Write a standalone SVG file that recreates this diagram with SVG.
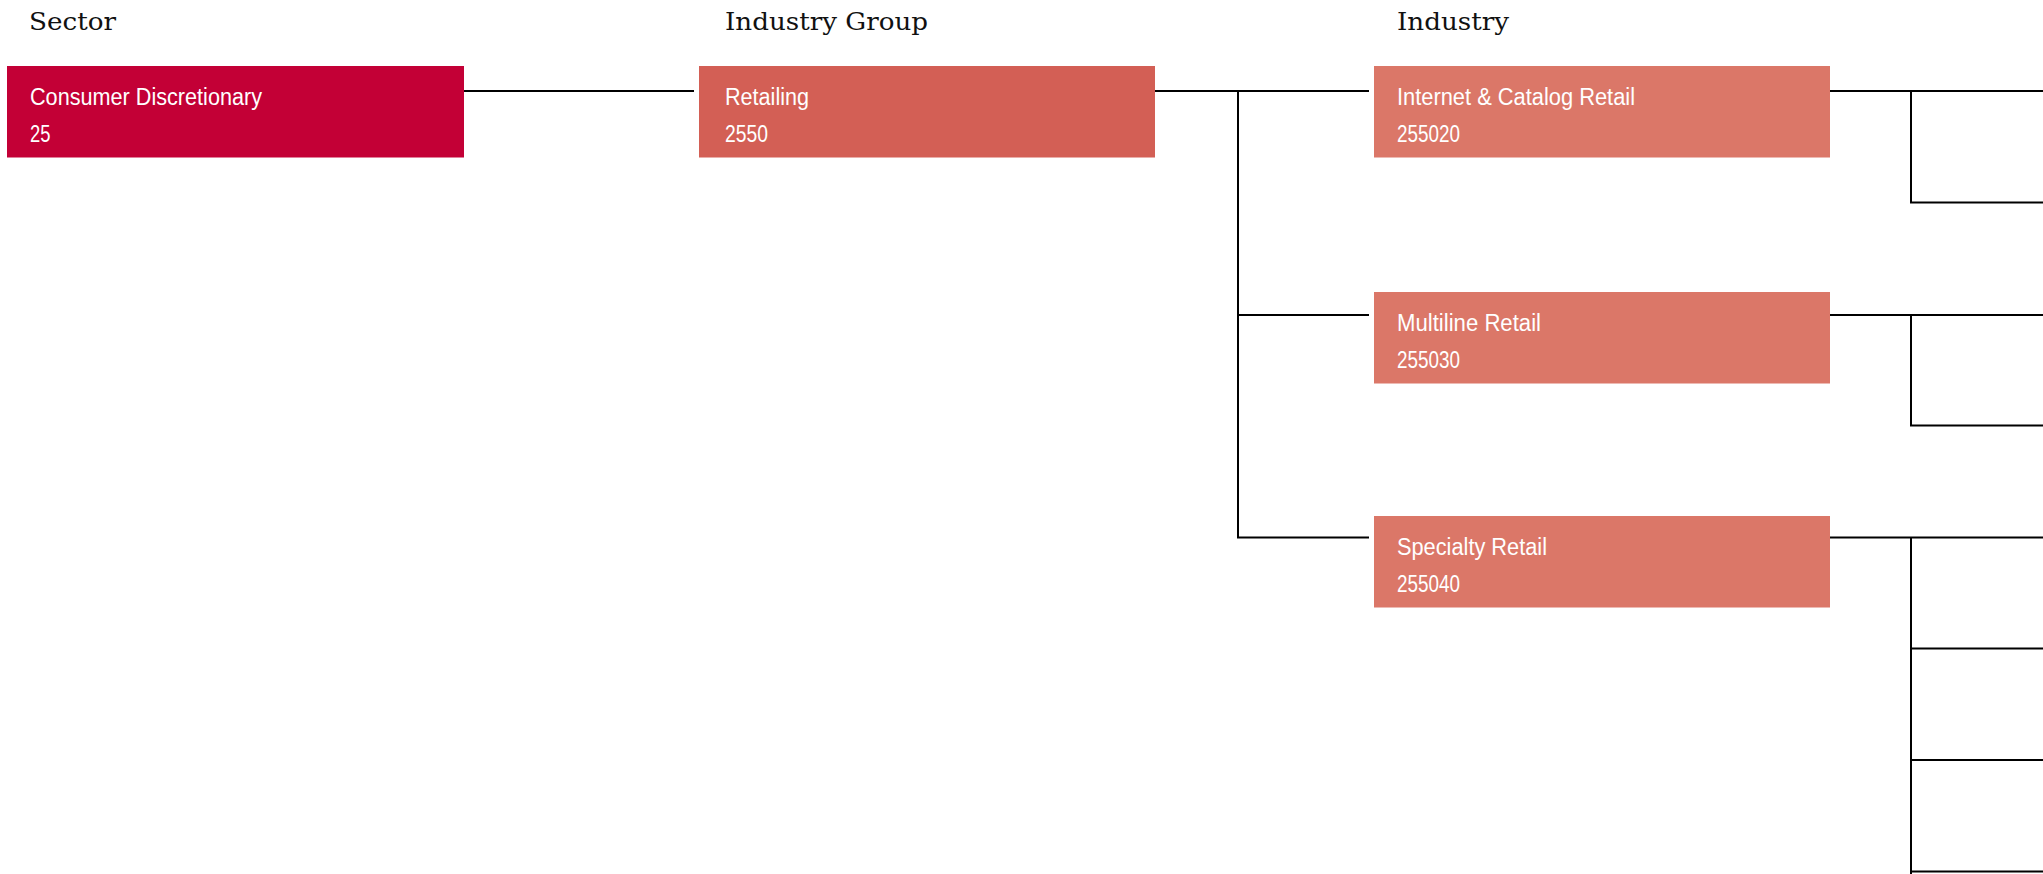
<svg xmlns="http://www.w3.org/2000/svg" width="2043" height="874" viewBox="0 0 2043 874">
<style>
.hdr{font-family:"DejaVu Serif","Liberation Serif",serif;font-size:25px;fill:#111;}
.lbl{font-family:"Liberation Sans","Arial",sans-serif;font-size:23px;fill:#fff;}
.sector{fill:#c30036;}
.group{fill:#d35f55;}
.ind{fill:#db7768;}
.conn{fill:none;stroke:#000;stroke-width:2;}
</style>
<rect width="2043" height="874" fill="#fff"/>
<g id="headers">
<text class="hdr" x="29" y="30" textLength="87" lengthAdjust="spacingAndGlyphs">Sector</text>
<text class="hdr" x="725" y="30" textLength="203" lengthAdjust="spacingAndGlyphs">Industry Group</text>
<text class="hdr" x="1397" y="30" textLength="112" lengthAdjust="spacingAndGlyphs">Industry</text>
</g>
<g id="connectors">
<path class="conn" d="M464 91H694"/>
<path class="conn" d="M1154 91H1369M1238 90V538.5M1238 315H1369M1238 537.5H1369"/>
<path class="conn" d="M1830 91H2043M1911 90V203.5M1911 202.5H2043"/>
<path class="conn" d="M1830 315H2043M1911 314V426.5M1911 425.5H2043"/>
<path class="conn" d="M1830 537.5H2043M1911 536.5V874M1911 648.5H2043M1911 760H2043M1911 871.5H2043"/>
</g>
<g id="node-sector-25">
<rect class="sector" x="7" y="66" width="457" height="91.5"/>
<text class="lbl" x="30" y="105" textLength="232" lengthAdjust="spacingAndGlyphs">Consumer Discretionary</text>
<text class="lbl" x="30" y="141.7" textLength="20.5" lengthAdjust="spacingAndGlyphs">25</text>
</g>
<g id="node-group-2550">
<rect class="group" x="699" y="66" width="456" height="91.5"/>
<text class="lbl" x="725" y="105" textLength="84" lengthAdjust="spacingAndGlyphs">Retailing</text>
<text class="lbl" x="725" y="141.7" textLength="43" lengthAdjust="spacingAndGlyphs">2550</text>
</g>
<g id="node-industry-255020">
<rect class="ind" x="1374" y="66" width="456" height="91.5"/>
<text class="lbl" x="1397" y="105" textLength="238" lengthAdjust="spacingAndGlyphs">Internet &amp; Catalog Retail</text>
<text class="lbl" x="1397" y="141.7" textLength="63" lengthAdjust="spacingAndGlyphs">255020</text>
</g>
<g id="node-industry-255030">
<rect class="ind" x="1374" y="292" width="456" height="91.5"/>
<text class="lbl" x="1397" y="331" textLength="144" lengthAdjust="spacingAndGlyphs">Multiline Retail</text>
<text class="lbl" x="1397" y="367.7" textLength="63" lengthAdjust="spacingAndGlyphs">255030</text>
</g>
<g id="node-industry-255040">
<rect class="ind" x="1374" y="516" width="456" height="91.5"/>
<text class="lbl" x="1397" y="555" textLength="150" lengthAdjust="spacingAndGlyphs">Specialty Retail</text>
<text class="lbl" x="1397" y="591.7" textLength="63" lengthAdjust="spacingAndGlyphs">255040</text>
</g>
</svg>
